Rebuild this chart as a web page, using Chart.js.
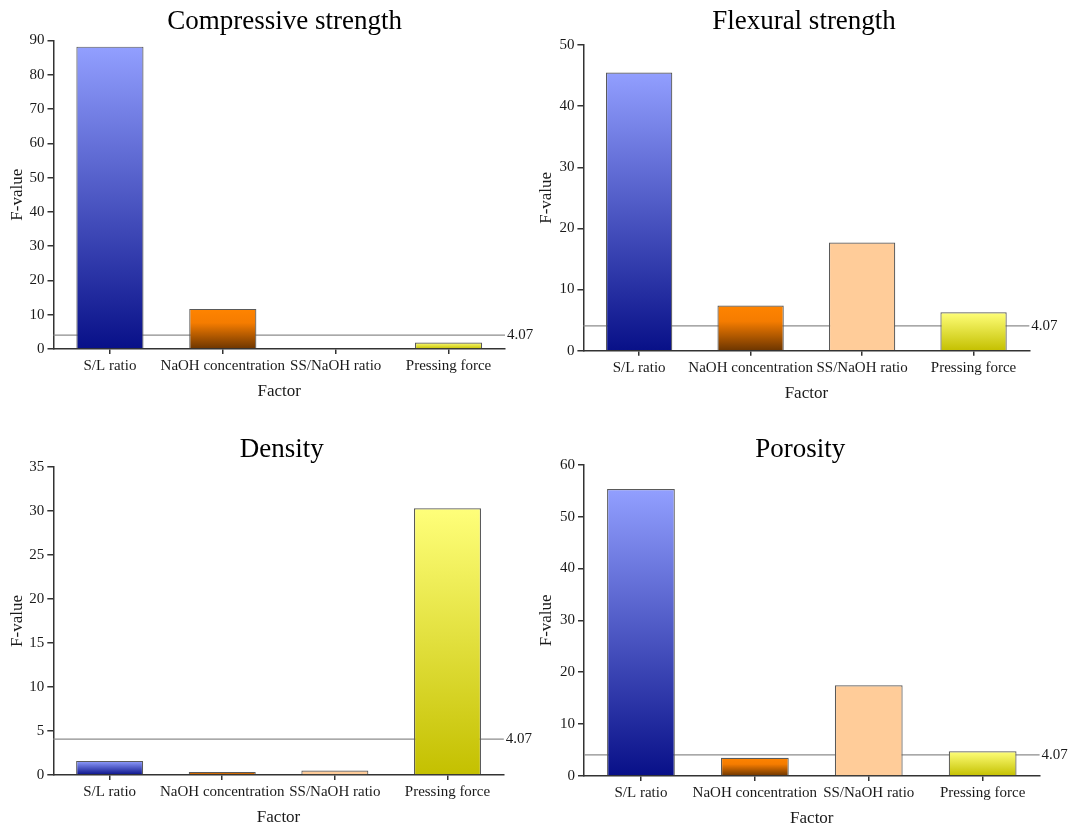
<!DOCTYPE html>
<html>
<head>
<meta charset="utf-8">
<script src="https://cdn.jsdelivr.net/npm/chart.js@4.4.1/dist/chart.umd.min.js"></script>
<style>
  html, body { margin: 0; padding: 0; background: #fff; overflow: hidden; }
  #wrap { position: relative; width: 1070px; height: 826px; }
  canvas { position: absolute; }
</style>
</head>
<body>
<div id="wrap">
  <canvas id="c1"></canvas>
  <canvas id="c2"></canvas>
  <canvas id="c3"></canvas>
  <canvas id="c4"></canvas>
</div>
<script>
// F-values of the ANOVA, one array per response
var factors = ['S/L ratio', 'NaOH concentration', 'SS/NaOH ratio', 'Pressing force'];
var compressive = [88.2, 11.7, 0.15, 1.9];
var flexural = [45.5, 7.4, 17.7, 6.3];
var density = [1.6, 0.35, 0.5, 30.3];
var porosity = [55.3, 3.5, 17.5, 4.75];
var titles = ['Compressive strength', 'Flexural strength', 'Density', 'Porosity'];
var yMax = [90, 50, 35, 60];
var yStep = [10, 10, 5, 10];
var fCritical = 4.07;
var xTitle = 'Factor';
var yTitle = 'F-value';

// gradient stops for each factor (top -> bottom of the bar)
var barStops = [
  [[0, '#929fff'], [1, '#081088']],
  [[0, '#ff8400'], [0.35, '#f57c00'], [1, '#6c3500']],
  [[0, '#ffcc99'], [1, '#ffcc99']],
  [[0, '#ffff7a'], [1, '#c4c000']]
];

var serif = '"Liberation Serif", "Times New Roman", serif';

// canvas box [x, y, w, h] and chart area [left, top, right, bottom] in canvas coords
var panels = [
  { id: 'c1', values: compressive, box: [0, 0, 535, 413], area: [53.5, 40.5, 505, 349], tx: 284.7, ty: 22, fx: 18, fy: 391.6 },
  { id: 'c2', values: flexural, box: [530, 0, 540, 413], area: [53.4, 45, 499.3, 350.7], tx: 274, ty: 21.6, fx: 16.2, fy: 393.3 },
  { id: 'c3', values: density, box: [0, 420, 535, 410], area: [53.3, 47, 503.8, 355], tx: 281.7, ty: 30.2, fx: 17.2, fy: 397.6 },
  { id: 'c4', values: porosity, box: [530, 420, 540, 410], area: [54, 44.7, 509.6, 356], tx: 270.3, ty: 30.2, fx: 16.9, fy: 398.6 }
];

var barFill = function (ctx) {
  var stops = barStops[ctx.dataIndex % barStops.length];
  var chart = ctx.chart;
  if (!chart.chartArea || ctx.type !== 'data') return stops[0][1];
  var y = chart.scales.y;
  var top = y.getPixelForValue(ctx.raw);
  var base = y.getPixelForValue(0);
  if (base - top < 1) return stops[stops.length - 1][1];
  var g = chart.ctx.createLinearGradient(0, top, 0, base);
  stops.forEach(function (s) { g.addColorStop(s[0], s[1]); });
  return g;
};

// critical F line behind the bars, with its value on the right
var fLine = {
  id: 'fLine',
  beforeDatasetsDraw: function (chart) {
    var ctx = chart.ctx, a = chart.chartArea;
    var py = chart.scales.y.getPixelForValue(fCritical);
    ctx.save();
    ctx.strokeStyle = '#8c8c8c';
    ctx.lineWidth = 1.2;
    ctx.beginPath();
    ctx.moveTo(a.left, py);
    ctx.lineTo(a.right, py);
    ctx.stroke();
    ctx.restore();
  },
  afterDraw: function (chart) {
    var ctx = chart.ctx, a = chart.chartArea;
    var py = chart.scales.y.getPixelForValue(fCritical);
    ctx.save();
    ctx.fillStyle = '#1a1a1a';
    ctx.font = '15px ' + serif;
    ctx.textAlign = 'left';
    ctx.textBaseline = 'middle';
    ctx.fillText(fCritical.toFixed(2), a.right + 2, py);
    ctx.restore();
  }
};

// panel heading
var panelTitle = {
  id: 'panelTitle',
  afterDraw: function (chart, args, opts) {
    var ctx = chart.ctx;
    ctx.save();
    ctx.fillStyle = '#000';
    ctx.font = '27px ' + serif;
    ctx.textAlign = 'center';
    ctx.textBaseline = 'middle';
    ctx.fillText(opts.text, opts.x, opts.y);
    ctx.restore();
  }
};

panels.forEach(function (p, i) {
  var el = document.getElementById(p.id);
  el.width = p.box[2];
  el.height = p.box[3];
  el.style.left = p.box[0] + 'px';
  el.style.top = p.box[1] + 'px';

  new Chart(el.getContext('2d'), {
    type: 'bar',
    data: {
      labels: factors,
      datasets: [{
        data: p.values,
        backgroundColor: barFill,
        borderColor: '#5a5a5a',
        borderWidth: 1.2,
        barPercentage: 0.595,
        categoryPercentage: 1
      }]
    },
    options: {
      responsive: false,
      animation: false,
      devicePixelRatio: 1,
      layout: { padding: { left: 0, top: p.area[1], right: p.box[2] - p.area[2], bottom: 0 } },
      plugins: {
        legend: { display: false },
        tooltip: { enabled: false },
        title: { display: false },
        panelTitle: { text: titles[i], x: p.tx, y: p.ty }
      },
      scales: {
        x: {
          afterFit: function (s) { s.height = p.box[3] - p.area[3]; },
          grid: { offset: false, drawOnChartArea: false, drawTicks: true, tickLength: 5, color: '#333', lineWidth: 1.5 },
          border: { display: true, color: '#333', width: 1.5 },
          ticks: { color: '#1a1a1a', padding: 3, maxRotation: 0, autoSkip: false, font: { family: serif, size: 15 } },
          title: {
            display: true, text: xTitle, color: '#1a1a1a',
            font: { family: serif, size: 17 },
            padding: { top: 0, bottom: (p.box[3] - p.fy) - 10.2 }
          }
        },
        y: {
          min: 0,
          max: yMax[i],
          afterFit: function (s) { s.width = p.area[0]; },
          grid: { drawOnChartArea: false, drawTicks: true, tickLength: 6, color: '#333', lineWidth: 1.5 },
          border: { display: true, color: '#333', width: 1.5 },
          ticks: { stepSize: yStep[i], color: '#1a1a1a', padding: 3, font: { family: serif, size: 15 } },
          title: {
            display: true, text: yTitle, color: '#1a1a1a',
            font: { family: serif, size: 17 },
            padding: { top: p.fx - 10.2, bottom: 0 }
          }
        }
      }
    },
    plugins: [fLine, panelTitle]
  });
});
</script>
</body>
</html>
